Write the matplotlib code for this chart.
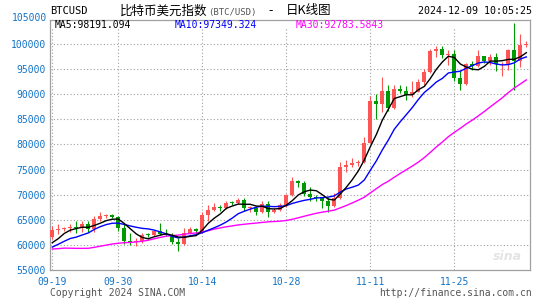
import numpy as np
import pandas as pd
import matplotlib
matplotlib.use("Agg")
import matplotlib.pyplot as plt
import matplotlib.transforms as mtransforms

# daily candles 2024-09-19 .. 2024-12-07
opens = [61650, 62950, 63200, 63350, 63600, 63350, 64250, 63150, 65200, 65800,
         65900, 65650, 63300, 60800, 60600, 60750, 62100, 62050, 62800, 62200,
         62100, 60600, 60300, 62500, 63200, 62850, 66050, 67050, 67600, 67400,
         68400, 68350, 69000, 67350, 67400, 66650, 68150, 66650, 67000, 67900,
         69900, 72700, 72300, 70200, 69500, 69300, 68750, 67800, 69350, 75600,
         75900, 76300, 76450, 80300, 88700, 87950, 90550, 87250, 91050, 90550,
         89850, 90450, 92300, 94300, 98450, 98950, 97700, 98000, 93100, 92000,
         95950, 95500, 97450, 96450, 97300, 95850, 96000, 98700, 96600, 99700]
highs = [63800, 64100, 63600, 64100, 64700, 64800, 64800, 65800, 66500, 66250,
         66200, 65700, 64100, 62400, 61500, 62500, 62400, 62900, 64400, 63200,
         62500, 61400, 63400, 63500, 63300, 66500, 67900, 68400, 67900, 68800,
         68700, 69400, 69400, 67800, 67800, 68800, 68700, 67400, 68300, 70200,
         73600, 72900, 72700, 71600, 69900, 69500, 69500, 70400, 76400, 76800,
         77200, 76900, 81500, 89500, 89900, 93300, 91800, 91850, 91800, 91500,
         92600, 93000, 94900, 98950, 99600, 99600, 98700, 98700, 94700, 96200,
         96600, 98700, 97500, 97900, 98150, 96300, 99000, 104100, 101900, 100500]
lows = [61300, 62300, 62800, 62700, 62500, 62700, 62700, 62700, 64800, 65400,
        65300, 62800, 60200, 60000, 59900, 60500, 61600, 61800, 62100, 61900,
        60300, 58900, 60100, 62300, 62000, 62400, 64800, 66700, 66700, 67100,
        67900, 68200, 66800, 66600, 65900, 66400, 65600, 66400, 66800, 67500,
        69700, 71500, 69700, 68800, 68800, 67400, 66600, 67500, 69100, 74500,
        75600, 75800, 76300, 80200, 85100, 86400, 86700, 87100, 90100, 88800,
        89300, 90400, 91700, 94100, 97300, 97200, 95800, 92600, 90800, 91800,
        94700, 95350, 96100, 95700, 94500, 93600, 94700, 90800, 95300, 99300]
closes = [62950, 63200, 63350, 63600, 63350, 64250, 63150, 65200, 65800, 65900,
          65650, 63300, 60800, 60600, 60750, 62100, 62050, 62800, 62200, 62100,
          60600, 60300, 62500, 63200, 62850, 66050, 67050, 67600, 67400, 68400,
          68350, 69000, 67350, 67400, 66650, 68150, 66650, 67000, 67900, 69900,
          72700, 72300, 70200, 69500, 69300, 68750, 67800, 69350, 75600, 75900,
          76300, 76450, 80300, 88700, 87950, 90550, 87250, 91050, 90550, 89850,
          90450, 92300, 94300, 98450, 98950, 97700, 98000, 93100, 92000, 95950,
          95500, 97450, 96450, 97300, 95850, 96000, 98700, 96600, 99700, 99950]
# closes of the 29 days before the first candle, needed by the moving averages
prior_closes = [61160, 60380, 64090, 64180, 64250, 62830, 59420, 59030, 59350, 59120,
                58970, 57330, 59110, 57540, 57970, 56160, 53960, 54140, 54840, 57020,
                57650, 57340, 58130, 60570, 60000, 59180, 58210, 60310, 61760]

tick_pos = [0, 11, 25, 39, 53, 67]
tick_labels = ["09-19", "09-30", "10-14", "10-28", "11-11", "11-25"]
y_ticks = [55000, 60000, 65000, 70000, 75000, 80000, 85000, 90000, 95000, 100000]

W, H = 545, 300
BLUE_TXT = "#1474c8"
UP, DOWN = "#ff5454", "#009a00"
GRID = "#a0a0a0"
MONO = "DejaVu Sans Mono"
CJK = ["Noto Sans CJK SC", "DejaVu Sans"]

fig = plt.figure(figsize=(W / 100, H / 100), dpi=100)
ax = fig.add_axes([50.3 / W, (H - 270.3) / H, 479.2 / W, 250.4 / H])

x = np.arange(len(closes))
o = np.array(opens)
c = np.array(closes)
hi = np.array(highs)
lo = np.array(lows)
colors = np.where(c >= o, UP, DOWN)

# grid
for yv in y_ticks:
    ax.axhline(yv, color=GRID, lw=0.8, ls=(0, (1, 2)), zorder=0)
ax.vlines(tick_pos, 55000, 103100, color=GRID, lw=0.8, ls=(0, (1, 2)), zorder=0)

# candles
ax.vlines(x, lo, hi, color=colors, lw=0.8, zorder=2)
body = np.maximum(np.abs(c - o), 180)
ax.bar(x, body, bottom=np.minimum(o, c), width=0.7, color=colors, lw=0, zorder=3)

# moving averages
s = pd.Series(prior_closes + closes, dtype=float)
n0 = len(prior_closes)
ma5 = s.rolling(5).mean().iloc[n0:].values
ma10 = s.rolling(10).mean().iloc[n0:].values
ma30 = s.rolling(30).mean().iloc[n0:].values
ax.plot(x, ma30, color="#ff00ff", lw=1.0, zorder=4)
ax.plot(x, ma10, color="#0000ff", lw=1.0, zorder=4)
ax.plot(x, ma5, color="black", lw=1.0, zorder=4)

ax.set_xlim(-0.33, 79.53)
ax.set_ylim(55000, 104700)
ax.set_xticks(tick_pos)
ax.set_xticklabels(tick_labels)
ax.set_yticks(y_ticks)
ax.set_yticklabels([str(v) for v in y_ticks])
ax.tick_params(length=0, pad=3, labelcolor=BLUE_TXT, labelsize=7)
ax.tick_params(axis="x", pad=4.5)
for lab in ax.get_xticklabels() + ax.get_yticklabels():
    lab.set_family(MONO)
for sp in ax.spines.values():
    sp.set_color("#a0a0a0")
    sp.set_linewidth(0.9)

# 105000 label sits above the frame
trans = mtransforms.blended_transform_factory(ax.transAxes, ax.transData)
ax.text(-3.3 / 479.2, 105000, "105000", transform=trans, ha="right", va="center",
        color=BLUE_TXT, fontsize=7, family=MONO, clip_on=False)

# faint watermark
ax.text(0.985, 0.03, "sina", transform=ax.transAxes, ha="right", va="bottom",
        color="#e4e4e4", fontsize=9, style="italic", weight="bold", zorder=1)


def put(px, py, s, **kw):
    fig.text(px / W, 1 - py / H, s, va="center", **kw)


put(50, 11.5, "BTCUSD", family=MONO, fontsize=7.5, color="black")
put(120, 10.8, "比特币美元指数", family=CJK, fontsize=9, color="black")
put(208, 12, "(BTC/USD)", family=MONO, fontsize=6.5, color="#555555")
put(271, 11, "-", family=CJK, fontsize=9, color="black", ha="center")
put(286, 10.8, "日K线图", family=CJK, fontsize=9, color="black")
put(532, 11.5, "2024-12-09 10:05:25", family=MONO, fontsize=7.2, color="black", ha="right")

put(55, 24.5, "MA5:98191.094", family=MONO, fontsize=7, color="black")
put(174.5, 24.5, "MA10:97349.324", family=MONO, fontsize=7, color="#0000ff")
put(296, 24.5, "MA30:92783.5843", family=MONO, fontsize=7, color="#ff00ff")

put(50, 293.5, "Copyright 2024 SINA.COM", family=MONO, fontsize=7, color="#555555")
put(532, 293.5, "http://finance.sina.com.cn", family=MONO, fontsize=7, color="#555555", ha="right")

fig.savefig("out.png", dpi=100, facecolor="white")
